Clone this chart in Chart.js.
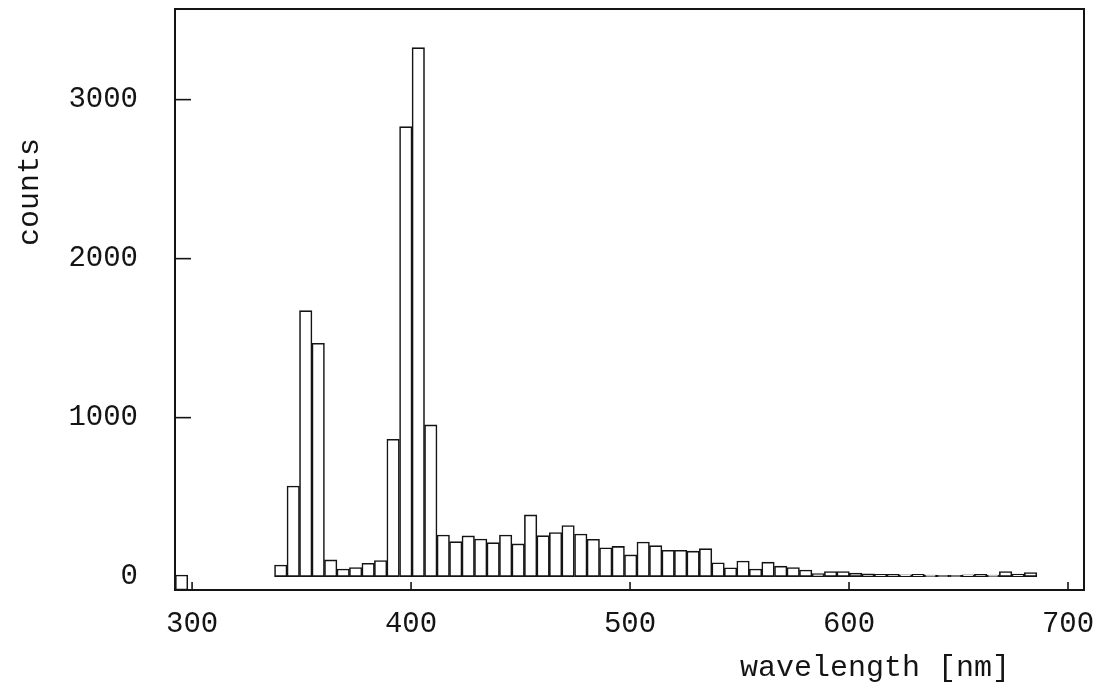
<!DOCTYPE html>
<html>
<head>
<meta charset="utf-8">
<script src="https://cdn.jsdelivr.net/npm/chart.js@4.4.1/dist/chart.umd.min.js"></script>
<style>
  html, body { margin: 0; padding: 0; background: #fff; }
  canvas { display: block; }
</style>
</head>
<body>
<canvas id="c" width="1102" height="691"></canvas>
<script>
// ---- data ----
const wavelengths = [
  340.5, 346.2, 351.9, 357.6, 363.3, 369.0, 374.7, 380.4, 386.1, 391.8,
  397.6, 403.3, 409.0, 414.7, 420.4, 426.1, 431.8, 437.5, 443.2, 448.9,
  454.6, 460.3, 466.0, 471.7, 477.5, 483.2, 488.9, 494.6, 500.3, 506.0,
  511.7, 517.4, 523.1, 528.8, 534.5, 540.2, 545.9, 551.6, 557.3, 563.0,
  568.8, 574.5, 580.2, 585.9, 591.6, 597.3, 603.0, 608.7, 614.4, 620.1,
  625.8, 631.5, 637.2, 642.9, 648.7, 654.4, 660.1, 665.8, 671.5, 677.2,
  682.9
];
const counts = [
  73, 570, 1673, 1468, 105, 48, 57, 84, 101, 864,
  2830, 3327, 954, 262, 220, 256, 237, 214, 262, 206,
  388, 258, 277, 321, 268, 235, 182, 190, 137, 218,
  195, 166, 166, 160, 176, 87, 56, 98, 48, 91,
  66, 57, 42, 20, 32, 32, 22, 18, 15, 14,
  12, 15, 10, 8, 8, 12, 14, 10, 32, 16,
  26
];
const underflowWavelengths = [295.2];
const underflowCounts = [10];
const xTicks = [300, 400, 500, 600, 700];
const yTicks = [0, 1000, 2000, 3000];
const xTitle = 'wavelength [nm]';
const yTitle = 'counts';

const X_MIN = 292.2, X_MAX = 707.3;
const Y_MIN = -84, Y_MAX = 3570;

const FONT = '"Liberation Mono", "DejaVu Sans Mono", monospace';
const INK = '#141414';

const framePlugin = {
  id: 'frame',
  afterDraw(chart) {
    const { ctx, chartArea: a, scales: { x, y } } = chart;
    ctx.save();
    ctx.strokeStyle = INK;
    ctx.lineWidth = 2;
    ctx.strokeRect(a.left, a.top, a.right - a.left, a.bottom - a.top);
    ctx.lineWidth = 1.6;
    yTicks.forEach(v => {
      if (v === 0) return;
      const py = y.getPixelForValue(v);
      ctx.beginPath(); ctx.moveTo(a.left, py); ctx.lineTo(a.left + 16, py); ctx.stroke();
    });
    xTicks.forEach(v => {
      const px = x.getPixelForValue(v);
      ctx.beginPath(); ctx.moveTo(px, a.bottom); ctx.lineTo(px, a.bottom - 8); ctx.stroke();
    });
    // axis titles
    ctx.fillStyle = INK;
    ctx.font = '30px ' + FONT;
    ctx.textAlign = 'center';
    ctx.textBaseline = 'middle';
    ctx.fillText(xTitle, 875, 668);
    ctx.translate(30, 192);
    ctx.rotate(-Math.PI / 2);
    ctx.fillText(yTitle, 0, 0);
    ctx.restore();
  }
};

new Chart(document.getElementById('c'), {
  type: 'bar',
  data: {
    datasets: [
      {
        data: wavelengths.map((w, i) => ({ x: w, y: counts[i] })),
        backgroundColor: '#ffffff',
        borderColor: INK,
        borderWidth: 1.6,
        borderSkipped: false,
        barPercentage: 1,
        categoryPercentage: 1,
        grouped: false
      },
      {
        data: underflowWavelengths.map((w, i) => ({ x: w, y: underflowCounts[i] })),
        base: Y_MIN,
        backgroundColor: '#ffffff',
        borderColor: INK,
        borderWidth: 1.6,
        borderSkipped: false,
        barPercentage: 1,
        categoryPercentage: 1,
        grouped: false
      }
    ]
  },
  options: {
    responsive: false,
    animation: false,
    devicePixelRatio: 1,
    layout: { padding: { top: 9, right: 18, left: 0, bottom: 0 } },
    plugins: { legend: { display: false }, tooltip: { enabled: false } },
    scales: {
      x: {
        type: 'linear',
        min: X_MIN, max: X_MAX,
        offset: false,
        grid: { display: false, drawTicks: false },
        border: { display: false },
        afterBuildTicks: s => { s.ticks = xTicks.map(v => ({ value: v })); },
        afterFit: s => { s.height = 101; s.paddingLeft = 0; s.paddingRight = 0; s.paddingTop = 0; s.paddingBottom = 0; },
        ticks: {
          padding: 17,
          color: INK,
          font: { family: FONT, size: 29 },
          maxRotation: 0,
          callback: v => String(v)
        }
      },
      y: {
        type: 'linear',
        min: Y_MIN, max: Y_MAX,
        grid: { display: false, drawTicks: false },
        border: { display: false },
        afterBuildTicks: s => { s.ticks = yTicks.map(v => ({ value: v })); },
        afterFit: s => { s.width = 175; s.paddingLeft = 0; s.paddingRight = 0; s.paddingTop = 0; s.paddingBottom = 0; },
        ticks: {
          padding: 37,
          color: INK,
          font: { family: FONT, size: 29 },
          callback: v => String(v)
        }
      }
    }
  },
  plugins: [framePlugin]
});
</script>
</body>
</html>
